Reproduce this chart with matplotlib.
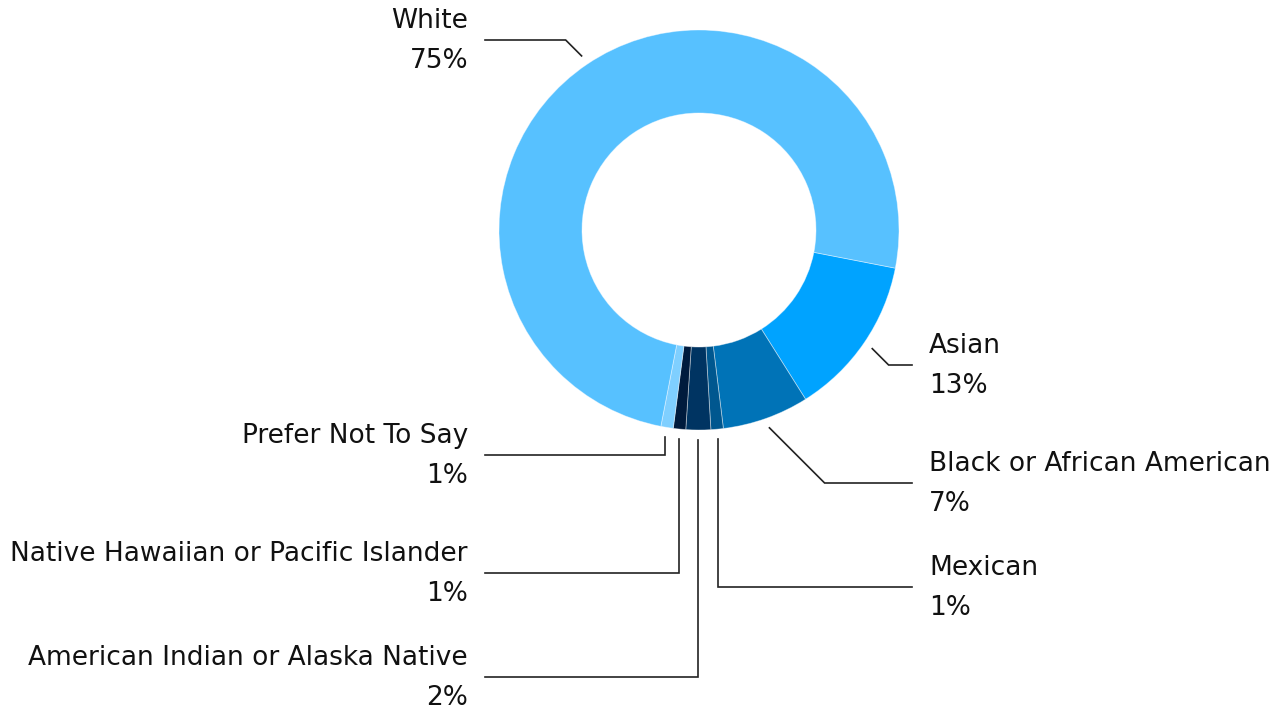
import numpy as np
import matplotlib.pyplot as plt

# Survey breakdown, drawn clockwise starting just below 3 o'clock
categories = ["Asian", "Black or African American", "Mexican",
              "American Indian or Alaska Native",
              "Native Hawaiian or Pacific Islander", "Prefer Not To Say", "White"]
shares = [13, 7, 1, 2, 1, 1, 75]
colors = ["#00a3ff", "#0073b7", "#00578f", "#003462", "#001b3d", "#7fcfff", "#57c1ff"]

# label placement: side, y of the leader's horizontal run (pixels from top), route
label_side = ["right", "right", "right", "left", "left", "left", "left"]
label_line_y = [365, 483, 587, 677, 573, 455, 40]
label_route = ["diag", "diag", "vert", "vert", "vert", "vert", "diag"]

W, H = 1283, 711
CX, CY = 699, H - 230
R = 200
HOLE = 117

plt.rcParams['font.family'] = ['DejaVu Sans']

fig = plt.figure(figsize=(W / 100, H / 100), dpi=100)
ax = fig.add_axes([0, 0, 1, 1])

wedges, _ = ax.pie(shares, colors=colors, startangle=-11, counterclock=False,
                   radius=R, center=(CX, CY),
                   wedgeprops=dict(width=R - HOLE, edgecolor=(1, 1, 1, 0.45), linewidth=0.6))

# pie() resets the limits, so set the pixel frame afterwards
ax.set_xlim(0, W)
ax.set_ylim(0, H)
ax.set_aspect('equal')
ax.axis('off')

for w, name, val, side, ly, route in zip(wedges, categories, shares,
                                         label_side, label_line_y, label_route):
    mid = np.deg2rad((w.theta1 + w.theta2) / 2)
    x0 = CX + 1.05 * R * np.cos(mid)
    y0 = CY + 1.05 * R * np.sin(mid)
    yl = H - ly
    if route == "diag":
        dx = abs(y0 - yl)
        x1 = x0 + dx if side == "right" else x0 - dx
    else:
        x1 = x0
    x2 = 912 if side == "right" else 485
    ax.plot([x0, x1, x2], [y0, yl, yl], color="#222222", lw=1.2,
            solid_joinstyle='miter')
    tx = 929 if side == "right" else 468
    ha = "left" if side == "right" else "right"
    ax.text(tx, yl + 19, name, ha=ha, va="center", fontsize=19, color="#111111")
    ax.text(tx, yl - 21, f"{val}%", ha=ha, va="center", fontsize=19, color="#111111")

fig.savefig("out.png", dpi=100)
